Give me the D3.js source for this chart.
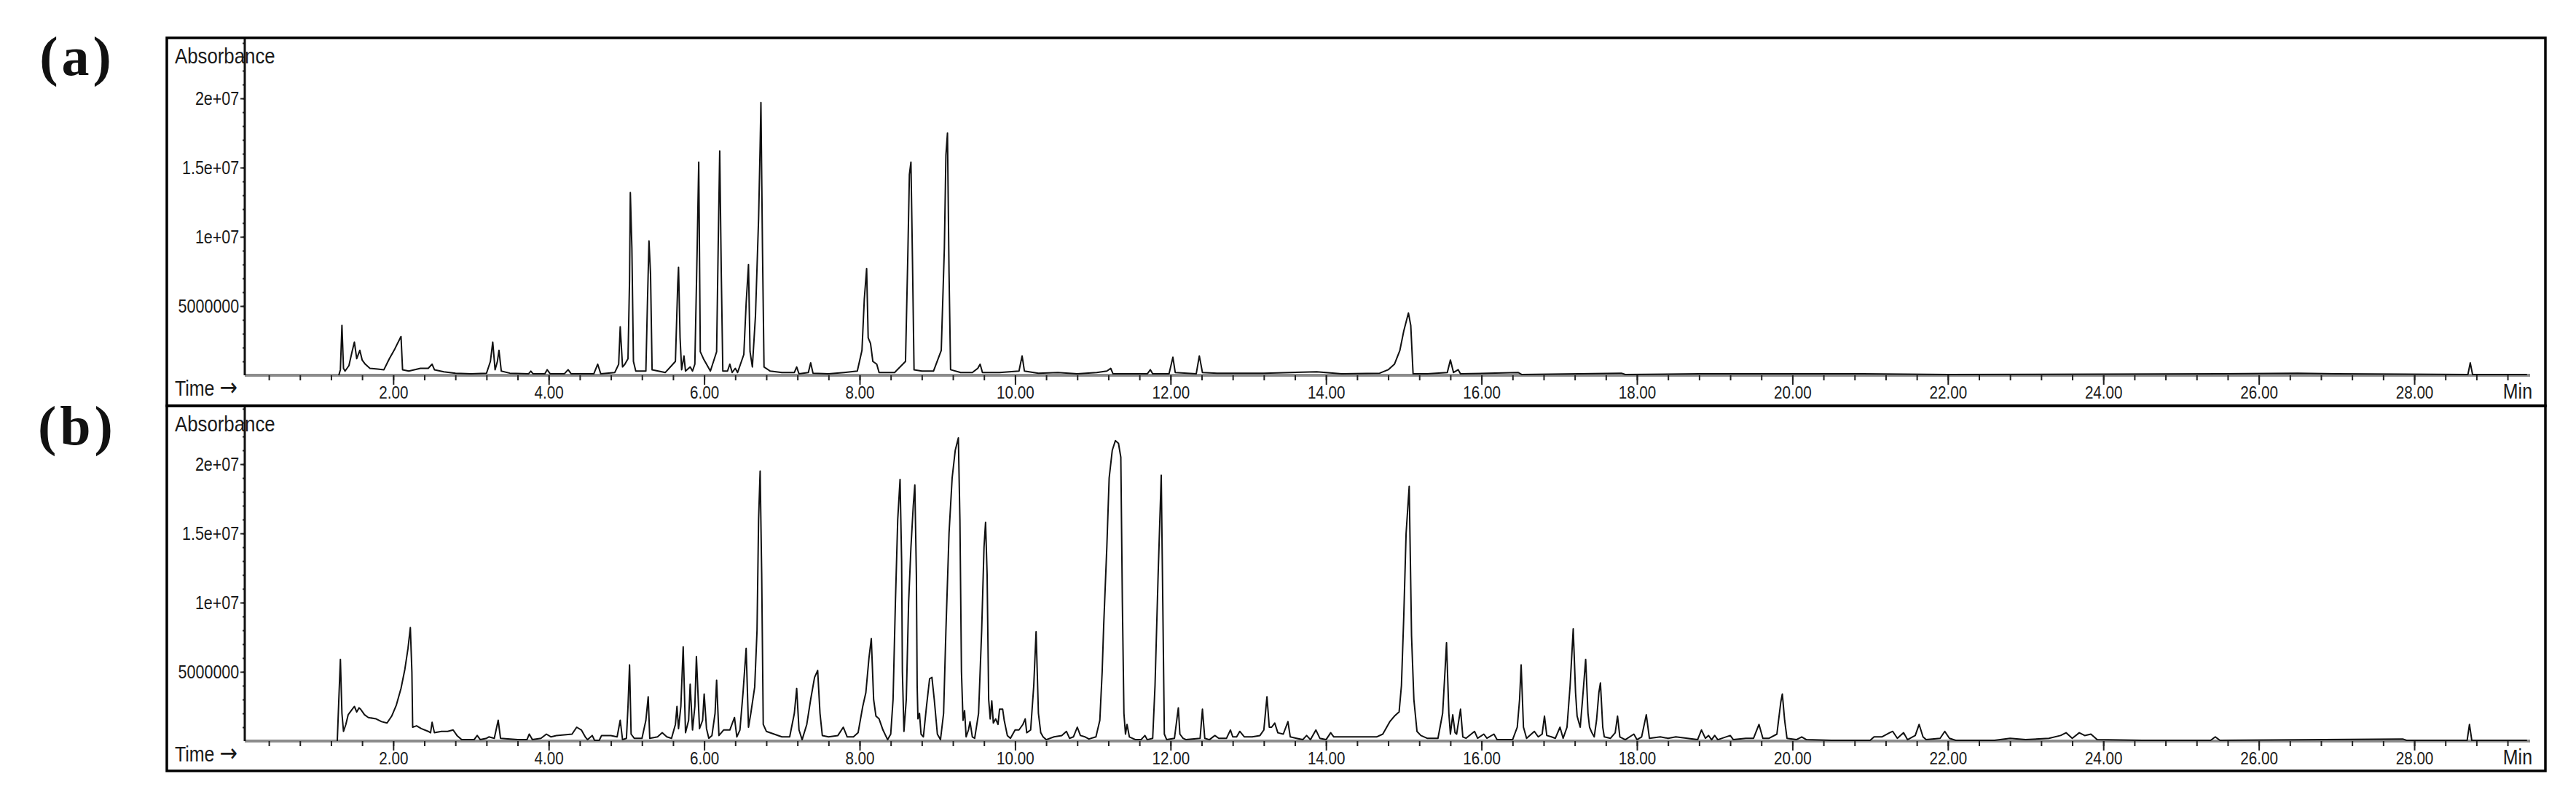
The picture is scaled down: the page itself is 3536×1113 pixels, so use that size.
<!DOCTYPE html>
<html>
<head>
<meta charset="utf-8">
<script src="https://cdn.jsdelivr.net/npm/d3@7"></script>
<style>
  body { margin: 0; background: #fff; }
  text { font-family: "Liberation Sans", Arial, sans-serif; fill: #1a1a1a; }
</style>
</head>
<body>
<svg id="chart"></svg>
<script>
// retention time ticks (min)
const timeTicks = [2, 4, 6, 8, 10, 12, 14, 16, 18, 20, 22, 24, 26, 28];
const timeTickLabels = ["2.00", "4.00", "6.00", "8.00", "10.00", "12.00", "14.00", "16.00", "18.00", "20.00", "22.00", "24.00", "26.00", "28.00"];
// absorbance ticks, in millions
const absTicks = [5, 10, 15, 20];
const absTickLabels = ["5000000", "1e+07", "1.5e+07", "2e+07"];
const panelNames = ["(a)", "(b)"];

// traces: [time (min), absorbance / 1e6]
const traceA = [
  [1.30,0],[1.32,0.4],[1.34,3.6],[1.36,0.5],[1.38,0.3],[1.43,0.7],[1.47,1.7],[1.50,2.4],[1.53,1.2],[1.57,1.8],[1.60,1.1],[1.64,0.8],[1.70,0.5],[1.80,0.45],[1.88,0.4],[1.95,1.2],[2.02,1.9],[2.10,2.8],[2.12,0.4],[2.20,0.3],[2.35,0.5],[2.45,0.5],[2.50,0.8],[2.53,0.4],[2.65,0.25],[2.80,0.15],[3.00,0.1],[3.20,0.15],[3.25,1.0],[3.28,2.4],[3.31,0.4],[3.34,1.0],[3.36,1.8],[3.39,0.3],[3.50,0.15],[3.74,0.1],[3.77,0.3],[3.80,0.1],[3.95,0.1],[3.98,0.4],[4.02,0.1],[4.20,0.1],[4.25,0.4],[4.29,0.1],[4.58,0.1],[4.63,0.8],[4.67,0.1],[4.85,0.2],[4.90,0.8],[4.92,3.5],[4.95,0.6],[4.98,0.8],[5.02,1.2],[5.04,6.9],[5.05,13.2],[5.07,9.2],[5.09,1.0],[5.12,0.3],[5.25,0.3],[5.27,5.2],[5.29,9.7],[5.31,7.3],[5.33,0.4],[5.50,0.2],[5.63,1.0],[5.66,6.6],[5.67,7.8],[5.69,2.7],[5.71,0.4],[5.74,1.4],[5.76,0.3],[5.82,0.6],[5.85,0.3],[5.88,0.8],[5.91,9.2],[5.93,15.4],[5.95,1.7],[5.99,1.2],[6.03,0.8],[6.08,0.3],[6.16,1.7],[6.18,9.2],[6.20,16.2],[6.22,7.4],[6.24,0.3],[6.30,0.3],[6.33,0.8],[6.36,0.2],[6.40,0.5],[6.43,0.2],[6.51,1.5],[6.54,5.2],[6.57,8.0],[6.59,1.7],[6.62,0.6],[6.66,4.3],[6.70,11.3],[6.72,16.6],[6.73,19.7],[6.75,9.2],[6.77,0.6],[6.85,0.3],[7.00,0.2],[7.16,0.2],[7.19,0.6],[7.22,0.1],[7.34,0.2],[7.37,0.9],[7.40,0.15],[7.60,0.1],[7.80,0.2],[7.97,0.3],[8.03,1.8],[8.06,5.5],[8.09,7.7],[8.11,2.7],[8.14,2.3],[8.17,1.0],[8.22,0.8],[8.25,0.2],[8.45,0.2],[8.59,1.0],[8.62,8.7],[8.64,14.5],[8.66,15.4],[8.68,8.2],[8.70,0.4],[8.80,0.3],[8.95,0.3],[9.05,1.8],[9.09,9.2],[9.11,15.9],[9.13,17.5],[9.15,7.4],[9.17,0.4],[9.30,0.2],[9.45,0.2],[9.52,0.5],[9.55,0.8],[9.58,0.2],[9.80,0.2],[10.05,0.3],[10.09,1.4],[10.12,0.3],[10.30,0.15],[10.55,0.2],[10.80,0.1],[11.05,0.2],[11.18,0.3],[11.23,0.5],[11.26,0.1],[11.70,0.1],[11.74,0.4],[11.77,0.1],[11.98,0.1],[12.03,1.3],[12.06,0.2],[12.33,0.1],[12.37,1.4],[12.41,0.2],[12.60,0.15],[13.20,0.15],[13.88,0.25],[14.20,0.1],[14.69,0.15],[14.80,0.4],[14.88,0.8],[14.95,1.8],[15.00,3.2],[15.06,4.5],[15.09,3.6],[15.12,0.1],[15.30,0.1],[15.56,0.2],[15.60,1.1],[15.64,0.2],[15.70,0.4],[15.73,0.1],[16.47,0.2],[16.52,0.05],[17.80,0.15],[17.85,0.05],[18.80,0.1],[20.90,0.1],[22.00,0.05],[25.50,0.1],[26.50,0.15],[27.00,0.1],[28.69,0.05],[28.72,0.9],[28.75,0.05],[29.45,0.05]
];

const traceB = [
  [1.28,0],[1.30,3.0],[1.32,5.9],[1.34,2.0],[1.36,0.7],[1.39,1.2],[1.42,1.9],[1.46,2.2],[1.50,2.5],[1.53,2.1],[1.56,2.4],[1.58,2.3],[1.63,1.9],[1.68,1.7],[1.78,1.6],[1.85,1.4],[1.92,1.3],[1.98,1.8],[2.04,2.6],[2.10,3.8],[2.15,5.2],[2.19,6.7],[2.22,8.2],[2.24,5.0],[2.25,1.0],[2.30,1.1],[2.36,0.9],[2.45,0.7],[2.48,0.6],[2.50,1.35],[2.53,0.6],[2.62,0.7],[2.70,0.7],[2.77,0.8],[2.82,0.4],[2.88,0.1],[3.04,0.1],[3.08,0.4],[3.12,0.1],[3.20,0.2],[3.23,0.3],[3.30,0.2],[3.35,1.5],[3.38,0.2],[3.60,0.1],[3.72,0.1],[3.75,0.5],[3.79,0.1],[3.90,0.2],[3.97,0.5],[4.03,0.3],[4.10,0.4],[4.20,0.45],[4.30,0.5],[4.36,1.0],[4.42,0.8],[4.47,0.3],[4.50,0.1],[4.56,0.4],[4.59,0.05],[4.65,0.05],[4.68,0.4],[4.80,0.4],[4.88,0.3],[4.92,1.5],[4.95,0.1],[5.00,0.2],[5.02,2.5],[5.04,5.5],[5.06,0.5],[5.10,0.2],[5.20,0.2],[5.25,1.5],[5.28,3.2],[5.30,0.2],[5.40,0.3],[5.46,0.6],[5.52,0.3],[5.58,0.2],[5.63,1.2],[5.65,2.5],[5.67,0.9],[5.70,2.5],[5.73,6.8],[5.76,0.6],[5.80,1.5],[5.82,4.1],[5.85,0.8],[5.88,2.5],[5.90,6.1],[5.94,0.9],[5.98,1.5],[6.00,3.4],[6.03,0.9],[6.06,0.2],[6.10,0.4],[6.14,2.0],[6.16,4.4],[6.19,0.4],[6.25,0.8],[6.33,0.8],[6.39,1.7],[6.42,0.3],[6.46,0.8],[6.50,3.5],[6.54,6.7],[6.57,1.0],[6.60,2.0],[6.65,3.9],[6.68,8.0],[6.70,16],[6.72,19.5],[6.74,12],[6.76,1.2],[6.80,0.7],[6.90,0.5],[7.00,0.3],[7.10,0.3],[7.16,2.0],[7.19,3.8],[7.22,0.8],[7.26,0.1],[7.32,1.2],[7.37,3.0],[7.42,4.6],[7.46,5.1],[7.49,2.0],[7.52,0.4],[7.60,0.3],[7.72,0.4],[7.79,1.0],[7.84,0.3],[7.92,0.3],[7.98,0.6],[8.04,2.5],[8.08,3.5],[8.12,6.0],[8.15,7.4],[8.18,3.0],[8.21,1.8],[8.25,1.6],[8.30,0.8],[8.36,0.1],[8.40,0.5],[8.43,3],[8.46,10],[8.49,16],[8.52,18.9],[8.54,13],[8.55,5],[8.57,0.7],[8.60,3],[8.63,10],[8.66,14],[8.69,17],[8.71,18.5],[8.73,12],[8.74,4],[8.75,1.6],[8.77,2.0],[8.79,0.5],[8.82,0.3],[8.86,2.5],[8.90,4.5],[8.93,4.6],[8.96,3.0],[9.00,0.5],[9.04,0.1],[9.08,2],[9.11,8],[9.15,15],[9.19,19],[9.23,21],[9.27,21.9],[9.29,16],[9.31,5],[9.33,1.5],[9.35,2.2],[9.37,0.3],[9.40,0.8],[9.42,1.4],[9.45,0.3],[9.48,0.2],[9.53,2],[9.57,8],[9.60,14],[9.62,15.8],[9.64,12],[9.66,3],[9.68,1.6],[9.70,2.9],[9.72,1.3],[9.75,1.6],[9.78,1.2],[9.80,2.3],[9.84,2.3],[9.86,1.5],[9.90,0.4],[9.94,0.2],[10.00,0.8],[10.05,0.8],[10.10,1.2],[10.13,1.6],[10.15,0.6],[10.20,0.8],[10.24,4.0],[10.27,7.9],[10.30,2.0],[10.33,0.6],[10.36,0.3],[10.40,0.1],[10.50,0.3],[10.60,0.4],[10.66,0.7],[10.70,0.2],[10.75,0.3],[10.80,1.0],[10.84,0.4],[10.90,0.3],[10.95,0.15],[11.04,0.3],[11.09,1.5],[11.12,5],[11.14,8.4],[11.18,14],[11.21,19],[11.25,21],[11.29,21.7],[11.33,21.5],[11.36,20.5],[11.38,10],[11.40,2],[11.42,0.5],[11.44,1.2],[11.47,0.3],[11.55,0.1],[11.62,0.1],[11.67,0.4],[11.70,0.1],[11.77,0.2],[11.80,4],[11.84,12],[11.88,19.2],[11.90,10],[11.92,0.5],[11.95,0.1],[12.05,0.2],[12.10,2.4],[12.12,0.5],[12.16,0.2],[12.20,0.1],[12.38,0.2],[12.41,2.3],[12.44,0.2],[12.50,0.1],[12.57,0.4],[12.62,0.2],[12.72,0.2],[12.77,0.8],[12.80,0.3],[12.85,0.3],[12.89,0.7],[12.95,0.3],[13.05,0.3],[13.15,0.4],[13.20,0.8],[13.24,3.2],[13.27,1.0],[13.30,1.0],[13.34,1.3],[13.38,0.6],[13.45,0.5],[13.51,1.4],[13.54,0.3],[13.62,0.2],[13.70,0.1],[13.75,0.4],[13.80,0.1],[13.87,0.8],[13.92,0.2],[14.00,0.1],[14.06,0.6],[14.10,0.3],[14.30,0.3],[14.50,0.3],[14.65,0.3],[14.73,0.5],[14.82,1.4],[14.88,1.8],[14.94,2.1],[14.97,4],[15.00,9],[15.03,15],[15.07,18.4],[15.10,7.6],[15.13,3.0],[15.17,0.7],[15.22,0.4],[15.30,0.2],[15.44,0.2],[15.50,2.0],[15.53,5.0],[15.55,7.1],[15.58,2.0],[15.60,0.5],[15.63,1.9],[15.66,0.6],[15.68,0.5],[15.73,2.3],[15.76,0.3],[15.80,0.2],[15.91,0.7],[15.95,0.2],[16.03,0.5],[16.07,0.2],[16.16,0.5],[16.20,0.1],[16.40,0.1],[16.46,1.0],[16.49,3.0],[16.51,5.5],[16.54,1.0],[16.58,0.2],[16.68,0.7],[16.73,0.3],[16.78,0.5],[16.81,1.8],[16.84,0.4],[16.90,0.3],[16.95,0.2],[17.01,1.0],[17.05,0.2],[17.10,1.0],[17.14,4.0],[17.18,8.1],[17.21,3.5],[17.23,1.8],[17.25,1.4],[17.27,1.0],[17.30,3.0],[17.34,5.9],[17.37,2.0],[17.39,1.0],[17.42,0.6],[17.45,0.3],[17.48,1.5],[17.51,3.5],[17.53,4.2],[17.56,1.0],[17.58,0.3],[17.66,0.2],[17.72,0.6],[17.75,1.8],[17.78,0.3],[17.85,0.1],[17.96,0.5],[18.00,0.1],[18.06,0.3],[18.12,1.9],[18.16,0.2],[18.30,0.3],[18.40,0.2],[18.50,0.3],[18.78,0.1],[18.83,0.8],[18.88,0.2],[18.92,0.4],[18.96,0.1],[19.00,0.4],[19.04,0.1],[19.20,0.4],[19.24,0.1],[19.40,0.2],[19.50,0.2],[19.57,1.2],[19.62,0.2],[19.70,0.2],[19.80,0.5],[19.85,2.8],[19.87,3.4],[19.90,1.5],[19.93,0.2],[20.05,0.1],[20.12,0.3],[20.18,0.1],[20.50,0.05],[21.00,0.05],[21.05,0.3],[21.15,0.3],[21.25,0.6],[21.29,0.7],[21.35,0.2],[21.43,0.6],[21.48,0.1],[21.58,0.4],[21.63,1.2],[21.68,0.3],[21.72,0.1],[21.90,0.2],[21.96,0.7],[22.02,0.2],[22.10,0.05],[22.60,0.05],[22.80,0.2],[23.00,0.1],[23.30,0.2],[23.45,0.4],[23.52,0.6],[23.60,0.2],[23.69,0.6],[23.76,0.4],[23.84,0.5],[23.92,0.1],[24.50,0.05],[25.38,0.05],[25.44,0.3],[25.50,0.05],[27.85,0.15],[27.90,0.05],[28.68,0.05],[28.71,1.2],[28.74,0.05],[29.45,0.05]
];

const traces = [traceA, traceB];

var w = 3536;
var h = 1113;
var frameLeft = 229, frameRight = 3494;
var axisLeft = 336, axisRight = 3473;
var pxPerUnit = 19;
var panels = [
    { top: 52, bottom: 557, base: 515, labelY: 103 },
    { top: 557, bottom: 1058, base: 1017, labelY: 610 }
];
var squeeze = 0.86;

var svg = d3.select("#chart")
    .attr("width", w)
    .attr("height", h)
    .style("background", "#fff");

var xScale = d3.scaleLinear()
    .domain([0.09, 29.49])
    .range([axisLeft, axisRight]);

var minorTimes = d3.range(1, 74).map(k => +(k * 0.4).toFixed(1));

// narrow text, like the instrument software font
function label(g, x, y, txt, size, anchor) {
    return g.append("g")
        .attr("transform", `translate(${x},${y}) scale(${squeeze},1)`)
        .append("text")
        .attr("text-anchor", anchor)
        .style("font-size", size + "px")
        .text(txt);
}

panels.forEach((p, i) => {
    const g = svg.append("g");

    var yScale = d3.scaleLinear()
        .domain([0, (p.base - p.top) / pxPerUnit])
        .range([p.base, p.top]);

    g.append("text")
        .attr("x", 106)
        .attr("y", p.labelY)
        .attr("text-anchor", "middle")
        .style("font-family", "'Liberation Serif', 'Times New Roman', serif")
        .style("font-weight", "bold")
        .style("font-size", "76px")
        .style("letter-spacing", "5px")
        .style("fill", "#111")
        .text(panelNames[i]);

    label(g, 240, p.top + 35, "Absorbance", 30, "start");

    var timeText = label(g, 240, p.base + 28, "Time ", 29, "start");
    timeText.append("tspan")
        .style("font-family", "'DejaVu Sans', sans-serif")
        .style("font-size", "34px")
        .text("\u2192");

    label(g, 3476, p.base + 32, "Min", 29, "end");

    // x axis: grey base line plus ticks
    g.append("line")
        .attr("x1", axisLeft).attr("x2", axisRight)
        .attr("y1", p.base).attr("y2", p.base)
        .attr("stroke", "#8c8c8c")
        .attr("stroke-width", 4);

    g.append("g")
        .attr("transform", `translate(0,${p.base})`)
        .call(d3.axisBottom(xScale).tickValues(minorTimes).tickSize(7).tickFormat(""))
        .call(a => a.select(".domain").remove())
        .call(a => a.selectAll("line").attr("stroke", "#222").attr("stroke-width", 2));

    g.append("g")
        .attr("transform", `translate(0,${p.base})`)
        .call(d3.axisBottom(xScale).tickValues(timeTicks).tickSize(13).tickPadding(2)
            .tickFormat((d, k) => timeTickLabels[k]))
        .call(a => a.select(".domain").remove())
        .call(a => a.selectAll("line").attr("stroke", "#222").attr("stroke-width", 2))
        .call(a => a.selectAll("text")
            .attr("transform", `scale(${squeeze},1)`)
            .style("font-size", "24px")
            .style("font-family", "'Liberation Sans', Arial, sans-serif")
            .style("fill", "#1a1a1a"));

    // y axis
    g.append("g")
        .attr("transform", `translate(${axisLeft},0)`)
        .call(d3.axisLeft(yScale).tickValues(d3.range(1, 25)).tickSize(3).tickFormat(""))
        .call(a => a.select(".domain").remove())
        .call(a => a.selectAll("line").attr("stroke", "#222").attr("stroke-width", 2));

    g.append("g")
        .attr("transform", `translate(${axisLeft},0)`)
        .call(d3.axisLeft(yScale).tickValues(absTicks).tickSize(6).tickPadding(3)
            .tickFormat((d, k) => absTickLabels[k]))
        .call(a => a.select(".domain").remove())
        .call(a => a.selectAll("line").attr("stroke", "#222").attr("stroke-width", 2))
        .call(a => a.selectAll("text")
            .attr("transform", `scale(${squeeze},1)`)
            .style("font-size", "25px")
            .style("font-family", "'Liberation Sans', Arial, sans-serif")
            .style("fill", "#1a1a1a"));

    g.append("line")
        .attr("x1", axisLeft).attr("x2", axisLeft)
        .attr("y1", p.top).attr("y2", p.base)
        .attr("stroke", "#111")
        .attr("stroke-width", 3);

    // chromatogram trace
    var line = d3.line()
        .x(d => xScale(d[0]))
        .y(d => yScale(d[1]));

    g.append("path")
        .datum(traces[i])
        .attr("d", line)
        .attr("fill", "none")
        .attr("stroke", "#111")
        .attr("stroke-width", 2)
        .attr("stroke-linejoin", "round");

    // frame
    g.append("rect")
        .attr("x", frameLeft)
        .attr("y", p.top)
        .attr("width", frameRight - frameLeft)
        .attr("height", p.bottom - p.top)
        .attr("fill", "none")
        .attr("stroke", "#000")
        .attr("stroke-width", 3.5);
});
</script>
</body>
</html>
